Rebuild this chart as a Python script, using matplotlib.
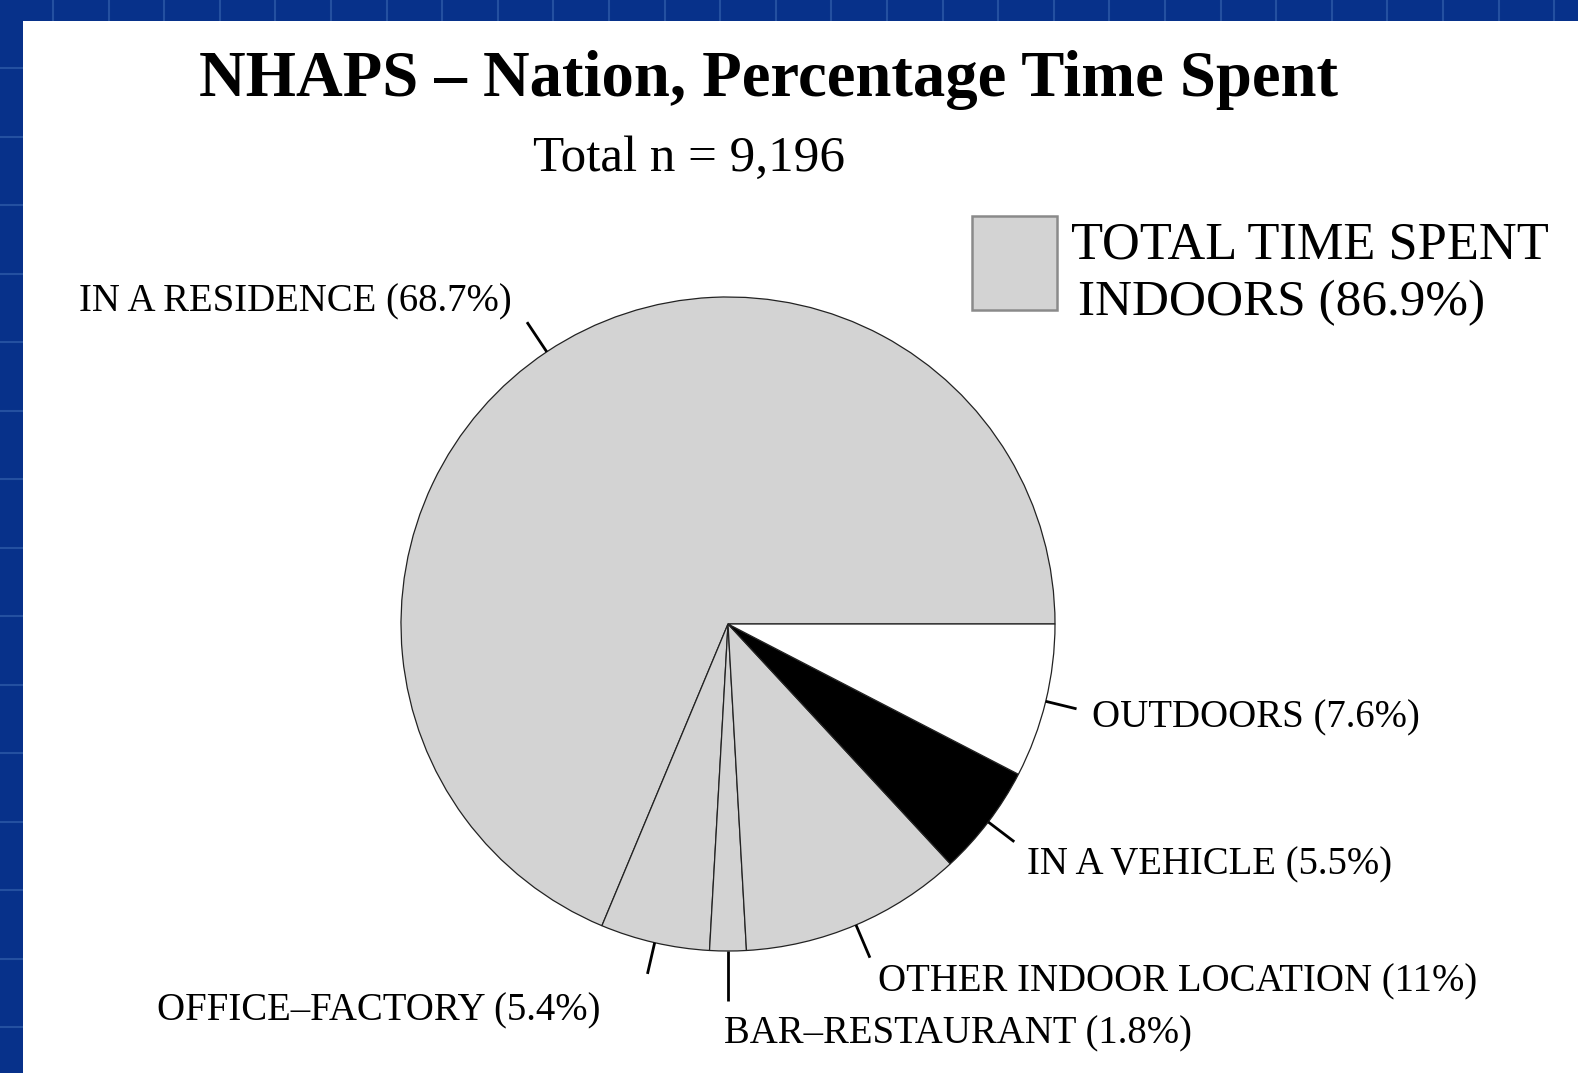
import numpy as np
import matplotlib
matplotlib.use('Agg')
import matplotlib.pyplot as plt
from matplotlib.patches import Rectangle

# data
labels = ['IN A RESIDENCE (68.7%)', 'OFFICE\u2013FACTORY (5.4%)', 'BAR\u2013RESTAURANT (1.8%)',
          'OTHER INDOOR LOCATION (11%)', 'IN A VEHICLE (5.5%)', 'OUTDOORS (7.6%)']
values = [68.7, 5.4, 1.8, 11.0, 5.5, 7.6]
colors = ['#d3d3d3', '#d3d3d3', '#d3d3d3', '#d3d3d3', 'black', 'white']
legend_text = ['TOTAL TIME SPENT', 'INDOORS (86.9%)']
title = 'NHAPS \u2013 Nation, Percentage Time Spent'
subtitle = 'Total n = 9,196'

# label layout (radius factors / angle nudges in degrees)
tick_end = [1.109, 1.098, 1.154, 1.109, 1.10, 1.097]
label_r = [1.195, 1.235, 1.245, 1.176, 1.167, 1.147]
nudge = [0, -5.4, -0.6, -0.1, -1.25, -0.3]
label_ha = ['right', 'right', 'left', 'left', 'left', 'left']

W, H = 1578, 1073
plt.rcParams['font.family'] = ['Liberation Serif', 'DejaVu Serif']

fig = plt.figure(figsize=(W / 100, H / 100), dpi=100)
fig.patch.set_facecolor('#07318a')

ax = fig.add_axes([0, 0, 1, 1])
ax.set_xlim(0, W)
ax.set_ylim(0, H)
ax.set_axis_off()

# slide background grid
for gx in np.arange(53, W, 55.6):
    ax.plot([gx, gx], [H - 21, H], color='#2450a0', lw=1.5, zorder=0)
for gy in np.arange(68, H, 68.5):
    ax.plot([0, 23], [H - gy, H - gy], color='#2450a0', lw=1.5, zorder=0)
ax.add_patch(Rectangle((23, 0), W - 23, H - 21, facecolor='white', edgecolor='none', zorder=1))

cx, cy, R = 728, H - 624, 327
wedges, _ = ax.pie(values, colors=colors, startangle=0, counterclock=True,
                   center=(cx, cy), radius=R, frame=True,
                   wedgeprops=dict(edgecolor='#222222', linewidth=0.9))
for w in wedges:
    w.set_zorder(2)
ax.set_xlim(0, W)
ax.set_ylim(0, H)
ax.set_axis_off()

fs = 27.9
em = fs * 100 / 72
for w, lab, te, lr, nd, ha in zip(wedges, labels, tick_end, label_r, nudge, label_ha):
    mid = np.deg2rad((w.theta1 + w.theta2) / 2)
    ax.plot([cx + R * np.cos(mid), cx + te * R * np.cos(mid)],
            [cy + R * np.sin(mid), cy + te * R * np.sin(mid)],
            color='black', lw=2.0, solid_capstyle='butt', zorder=3)
    a = mid + np.deg2rad(nd)
    ax.text(cx + lr * R * np.cos(a), cy + lr * R * np.sin(a) - 0.331 * em, lab,
            fontsize=fs, ha=ha, va='baseline', zorder=4)

ax.text(769, H - 95.6, title, fontsize=46.5, fontweight='bold', ha='center', va='baseline', zorder=4)
ax.text(689.5, H - 171, subtitle, fontsize=36.8, ha='center', va='baseline', zorder=4)

# legend
ax.add_patch(Rectangle((972, H - 310), 85, 94, facecolor='#d3d3d3', edgecolor='#8a8a8a',
                       lw=1.8, zorder=4))
ax.text(1071, H - 258.6, legend_text[0], fontsize=37.7, ha='left', va='baseline', zorder=4)
ax.text(1078, H - 315, legend_text[1], fontsize=36.9, ha='left', va='baseline', zorder=4)

fig.savefig('out.png', dpi=100, facecolor=fig.get_facecolor())
